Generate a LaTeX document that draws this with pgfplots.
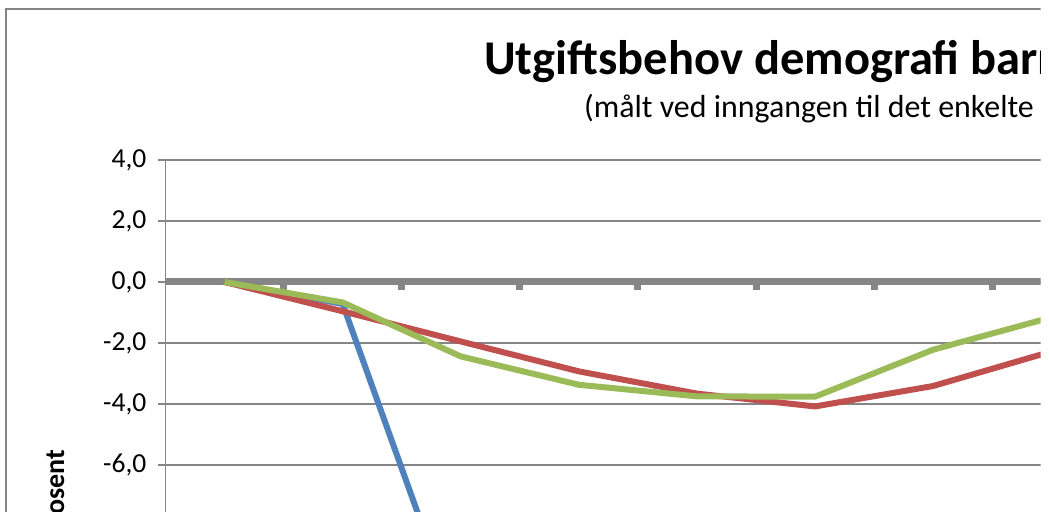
\documentclass[border=0pt]{standalone}
\usepackage{fontspec}
\setmainfont{Carlito}
\usepackage{pgfplots}
\pgfplotsset{compat=1.18}
\definecolor{axgray}{HTML}{868686}
\definecolor{sblue}{HTML}{4F81BD}
\definecolor{sred}{HTML}{C0504D}
\definecolor{sgreen}{HTML}{9BBB59}
\begin{document}
\begin{tikzpicture}[x=1bp,y=1bp]
\path[use as bounding box] (0,0) rectangle (1049,512);
\clip (0,0) rectangle (1040.5,512);
\draw[axgray, line width=1.5bp] (6,-20) -- (6,503) -- (1100,503);
\node[anchor=base west, inner sep=0, font=\fontsize{48.5bp}{58bp}\selectfont\bfseries] at (484,437) {Utgiftsbehov demografi barnehage};
\node[anchor=base west, inner sep=0, font=\fontsize{31.9bp}{38bp}\selectfont] at (584,394) {(målt ved inngangen til det enkelte år)};
\node[rotate=90, anchor=base east, inner sep=0, font=\fontsize{28bp}{34bp}\selectfont\bfseries] at (64,62) {Prosent};
\begin{axis}[
  scale only axis, width=944.8bp, height=671bp,
  at={(165.5bp,352bp)}, anchor=north west,
  xmin=0.5, xmax=8.5, ymin=-18, ymax=4,
  axis x line=middle, axis y line=left,
  x axis line style={-, line width=7bp, color=axgray},
  y axis line style={-, line width=1.5bp, color=axgray},
  xtick={0.5,1.5,...,8.5}, xticklabels={},
  ytick={-18,-16,...,4},
  yticklabels={{-18,0},{-16,0},{-14,0},{-12,0},{-10,0},{-8,0},{-6,0},{-4,0},{-2,0},{0,0},{2,0},{4,0}},
  tick align=outside, major tick length=8bp,
  x tick style={line width=7bp, color=axgray},
  y tick style={line width=1.5bp, color=axgray},
  ymajorgrids=true,
  grid style={line width=1.5bp, color=axgray},
  yticklabel style={font=\fontsize{27.5bp}{33bp}\selectfont, inner sep=0pt, anchor=east, xshift=-11bp},
]
\addplot[sblue, line width=6bp, line join=round] coordinates {(1,0) (2,-0.72) (3,-11.5) (4,-14) (5,-15) (6,-15.5) (7,-15) (8,-14.5)};
\addplot[sred, line width=6bp, line join=round] coordinates {(1,0) (2,-0.96) (3,-1.95) (4,-2.93) (5,-3.66) (6,-4.08) (7,-3.41) (8,-2.28)};
\addplot[sgreen, line width=6bp, line join=round] coordinates {(1,0) (2,-0.67) (3,-2.44) (4,-3.37) (5,-3.75) (6,-3.76) (7,-2.22) (8,-1.16)};
\end{axis}
\end{tikzpicture}
\end{document}
